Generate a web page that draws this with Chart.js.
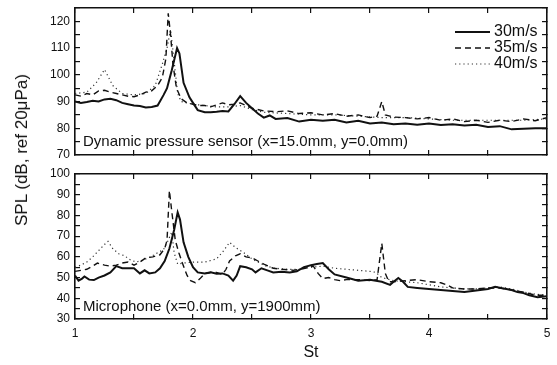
<!DOCTYPE html>
<html>
<head>
<meta charset="utf-8">
<script src="https://cdn.jsdelivr.net/npm/chart.js@4.4.0/dist/chart.umd.min.js"></script>
<style>
  body { margin: 0; background: #fff; }
  #wrap { position: relative; width: 557px; height: 365px; font-family: "Liberation Sans", Arial, sans-serif; color: #111; }
  #top { position: absolute; left: 0; top: 0; }
  #bottom { position: absolute; left: 0; top: 165px; }
  #ylabel { position: absolute; left: 22px; top: 150px; transform: translate(-50%, -50%) rotate(-90deg); white-space: nowrap; font-size: 17px; }
</style>
</head>
<body>
<div id="wrap">
  <canvas id="top" width="557" height="165"></canvas>
  <canvas id="bottom" width="557" height="200"></canvas>
  <div id="ylabel">SPL (dB, ref 20μPa)</div>
</div>
<script>
// speeds
const speeds = ['30m/s', '35m/s', '40m/s']
const xTicks = [1, 2, 3, 4, 5]

// dynamic pressure sensor panel
const sensorSt30 = [1.0, 1.05, 1.1, 1.15, 1.2, 1.25, 1.3, 1.35, 1.4, 1.45, 1.5, 1.55, 1.6, 1.65, 1.7, 1.75, 1.78, 1.82, 1.865, 1.885, 1.92, 1.97, 2.0, 2.04, 2.1, 2.15, 2.2, 2.25, 2.3, 2.35, 2.4, 2.45, 2.5, 2.55, 2.6, 2.65, 2.7, 2.8, 2.9, 3.0, 3.1, 3.2, 3.3, 3.4, 3.5, 3.6, 3.7, 3.8, 3.9, 4.0, 4.1, 4.2, 4.3, 4.4, 4.5, 4.6, 4.7, 4.8, 4.9, 5.0]
const sensorSpl30 = [90, 89.5, 89.8, 90.3, 90, 90.8, 91, 90.5, 89.5, 89, 88.5, 88.3, 87.8, 88, 88.5, 92.4, 95, 101.7, 110, 108, 97, 91.6, 89.5, 86.8, 86, 86, 86.2, 86.5, 86.3, 89, 92, 89.5, 87.5, 85.5, 84, 84.8, 83.5, 83.8, 82.5, 83.2, 82.8, 83.2, 82.2, 82.8, 81.8, 82.2, 81.5, 81.8, 81.3, 81.8, 81.2, 81.5, 81, 81.3, 80.5, 80.8, 79.6, 79.8, 80, 80]
const sensorSt35 = [1.0, 1.05, 1.1, 1.15, 1.2, 1.25, 1.3, 1.35, 1.4, 1.45, 1.5, 1.55, 1.6, 1.65, 1.7, 1.74, 1.77, 1.79, 1.81, 1.83, 1.86, 1.9, 1.95, 2.0, 2.05, 2.1, 2.15, 2.2, 2.25, 2.3, 2.35, 2.4, 2.45, 2.5, 2.6, 2.7, 2.8, 2.9, 3.0, 3.1, 3.2, 3.3, 3.4, 3.5, 3.56, 3.6, 3.63, 3.7, 3.8, 3.9, 4.0, 4.1, 4.2, 4.3, 4.4, 4.5, 4.6, 4.7, 4.8, 4.9, 5.0]
const sensorSpl35 = [92.5, 92, 93, 92.5, 94, 94.2, 93.5, 93, 92.5, 92, 91.8, 92.5, 93.5, 94, 96, 99, 106, 123, 115, 104, 95, 91, 89.5, 89, 88.5, 88.5, 88, 88.8, 89.5, 88.8, 89, 89.5, 88.5, 87.5, 86.5, 86.2, 86.5, 85.5, 85.8, 85, 85.5, 84.5, 85, 84, 84.5, 90, 85, 84.2, 84, 83.5, 84, 83, 83.5, 82.5, 83, 82.2, 83, 82.5, 83.5, 82.8, 84]
const sensorSt40 = [1.0, 1.1, 1.18, 1.25, 1.32, 1.4, 1.5, 1.6, 1.68, 1.74, 1.78, 1.81, 1.84, 1.87, 1.9, 1.95, 2.0, 2.1, 2.2, 2.3, 2.4, 2.5, 2.6, 2.8, 3.0, 3.2, 3.4, 3.6, 3.8, 4.0, 4.2, 4.4, 4.6, 4.8, 5.0]
const sensorSpl40 = [93, 93.5, 97, 102, 96, 93, 92.5, 93, 96, 104, 110, 117, 105, 93, 90, 89.5, 89, 88.5, 88, 88, 88.5, 87, 86, 85.5, 85, 85, 84.5, 84, 84, 83.5, 83, 83, 83, 83, 83.5]

// microphone panel
const micSt30 = [1.0, 1.03, 1.06, 1.08, 1.12, 1.16, 1.2, 1.25, 1.3, 1.35, 1.4, 1.45, 1.5, 1.55, 1.59, 1.63, 1.68, 1.72, 1.76, 1.8, 1.84, 1.87, 1.89, 1.92, 1.96, 2.0, 2.04, 2.1, 2.15, 2.2, 2.25, 2.3, 2.34, 2.37, 2.4, 2.45, 2.5, 2.53, 2.58, 2.63, 2.68, 2.75, 2.82, 2.88, 2.94, 3.0, 3.05, 3.1, 3.15, 3.2, 3.3, 3.4, 3.5, 3.6, 3.67, 3.7, 3.74, 3.78, 3.82, 3.9, 4.0, 4.1, 4.2, 4.3, 4.4, 4.5, 4.56, 4.62, 4.7, 4.75, 4.8, 4.85, 4.92, 5.0]
const micSpl30 = [51, 48.5, 49.5, 50.5, 49, 48.8, 50, 51, 52.5, 55.5, 54.5, 54.5, 54.5, 52, 53.5, 52, 52.5, 54.5, 58, 64, 73, 81.5, 78, 67, 60, 55, 52.5, 52, 52.5, 51.8, 52, 51, 48.5, 51, 55.5, 55, 54, 52.5, 54.5, 53.5, 52.5, 52.8, 52.5, 53, 55, 56, 56.5, 57, 54, 51.5, 50, 48.5, 49, 48, 46.5, 48, 49.8, 48, 45.5, 45, 44.5, 44, 43.5, 43, 43.8, 44.5, 45.5, 44.8, 44, 43, 42.5, 41.5, 40.5, 41]
const micSt35 = [1.0, 1.05, 1.1, 1.15, 1.19, 1.25, 1.3, 1.35, 1.4, 1.45, 1.5, 1.55, 1.6, 1.66, 1.72, 1.76, 1.78, 1.8, 1.82, 1.85, 1.88, 1.91, 1.95, 1.98, 2.02, 2.06, 2.1, 2.15, 2.2, 2.25, 2.28, 2.31, 2.36, 2.4, 2.45, 2.5, 2.55, 2.6, 2.68, 2.75, 2.85, 2.95, 3.02, 3.06, 3.1, 3.15, 3.2, 3.25, 3.3, 3.4, 3.5, 3.56, 3.6, 3.63, 3.66, 3.7, 3.8, 3.9, 4.0, 4.1, 4.15, 4.2, 4.3, 4.4, 4.5, 4.6, 4.7, 4.8, 4.9, 5.0]
const micSpl35 = [53, 53.5, 54, 55.5, 57, 56, 55.5, 56, 57, 57.5, 56, 57.5, 59.5, 60, 61, 64, 68, 92, 82, 68, 62, 57, 51, 48.5, 47.5, 49.5, 52, 52.5, 52.5, 51.5, 54, 58, 60.5, 61.5, 60, 59.5, 58, 56.5, 54.5, 54, 53.5, 54.5, 55.5, 52, 49.5, 50, 49, 48.5, 49, 49, 48.5, 49, 66.5, 52, 48, 48, 48.5, 49, 48, 47.5, 46.5, 45, 44.5, 44.5, 45, 45, 44, 43, 41.5, 41.5]
const micSt40 = [1.0, 1.05, 1.1, 1.15, 1.2, 1.25, 1.28, 1.32, 1.37, 1.42, 1.47, 1.52, 1.58, 1.64, 1.7, 1.75, 1.79, 1.82, 1.84, 1.87, 1.92, 2.0, 2.1, 2.2, 2.26, 2.31, 2.36, 2.43, 2.5, 2.55, 2.62, 2.7, 2.8, 2.9, 3.0, 3.1, 3.2, 3.3, 3.4, 3.5, 3.55, 3.6, 3.7, 3.8, 3.9, 4.0, 4.1, 4.2, 4.3, 4.4, 4.5, 4.6, 4.7, 4.8, 4.9, 5.0]
const micSpl40 = [55, 56, 57.5, 60, 63, 66, 67.5, 64, 61.5, 60.5, 58.5, 57.5, 58.5, 60, 62, 63.5, 68, 72, 62, 56.5, 57, 57.5, 57.5, 59, 63, 67, 64.5, 62, 59, 57.5, 55.5, 54.5, 54, 54, 55, 55.5, 54.5, 54, 53.5, 53, 52.5, 50, 48.5, 48, 47.5, 46.5, 45.5, 45, 44.5, 44.5, 45, 45.5, 44.5, 43, 42, 41.5]

const FONT = '"Liberation Sans", Arial, sans-serif'
const INK = '#111111'

function pairs (xs, ys) {
  return xs.map((x, i) => ({ x: x, y: ys[i] }))
}

function makeDatasets (st30, spl30, st35, spl35, st40, spl40) {
  return [
    { label: speeds[0], data: pairs(st30, spl30), borderColor: INK, borderWidth: 2, borderDash: [] },
    { label: speeds[1], data: pairs(st35, spl35), borderColor: INK, borderWidth: 1.4, borderDash: [6, 4] },
    { label: speeds[2], data: pairs(st40, spl40), borderColor: '#333333', borderWidth: 1.2, borderDash: [1.2, 3] }
  ]
}

// panel note and legend drawn inside the plot box
const notePlugin = {
  id: 'note',
  afterDraw (chart) {
    const opts = chart.options.plugins.note
    const ctx = chart.ctx
    const a = chart.chartArea
    ctx.save()
    ctx.fillStyle = INK
    ctx.font = '15px ' + FONT
    ctx.textBaseline = 'middle'
    ctx.textAlign = 'left'
    ctx.fillText(opts.text, a.left + 8, a.bottom - opts.offset)

    if (opts.legend) {
      ctx.font = '16px ' + FONT
      chart.data.datasets.forEach((ds, i) => {
        const ly = a.top + 24 + i * 16
        const lx = a.right - 92
        ctx.strokeStyle = ds.borderColor
        ctx.lineWidth = ds.borderWidth
        ctx.setLineDash(ds.borderDash)
        ctx.beginPath()
        ctx.moveTo(lx, ly); ctx.lineTo(lx + 35, ly)
        ctx.stroke()
        ctx.fillText(ds.label, lx + 39, ly)
      })
    }
    ctx.restore()
  }
}

// inward tick marks: negative tick length, no grid lines in the plot
const inwardGrid = { display: true, drawOnChartArea: false, drawTicks: true, tickLength: -5, color: INK, lineWidth: 1.2 }

// keep the plot box fixed: no extra room reserved for edge labels
function noScalePadding (scale) {
  scale.paddingLeft = 0
  scale.paddingRight = 0
  scale.paddingTop = 0
  scale.paddingBottom = 0
}

function edgeAxis (position, min, max, step) {
  return {
    type: 'linear',
    position: position,
    min: min,
    max: max,
    grid: inwardGrid,
    ticks: { display: false, stepSize: step },
    border: { display: true, color: INK, width: 1.6 },
    afterFit: scale => {
      if (position === 'top') scale.height = 0
      else scale.width = 0
      noScalePadding(scale)
    }
  }
}

function makeOptions (yMin, yMax, showX, note, noteOffset, legend, padding) {
  return {
    responsive: false,
    animation: false,
    layout: { padding: padding, autoPadding: false },
    elements: { point: { radius: 0 }, line: { tension: 0, fill: false } },
    plugins: {
      legend: { display: false },
      tooltip: { enabled: false },
      note: { text: note, offset: noteOffset, legend: legend }
    },
    scales: {
      x: {
        type: 'linear',
        min: 1,
        max: 5,
        grid: inwardGrid,
        border: { display: true, color: INK, width: 1.6 },
        afterFit: scale => {
          scale.height = showX ? 46 : 0
          noScalePadding(scale)
        },
        ticks: {
          display: showX,
          stepSize: 0.5,
          color: INK,
          padding: 12,
          font: { family: FONT, size: 12 },
          maxRotation: 0,
          autoSkip: false,
          callback: v => (xTicks.includes(v) ? v : '')
        },
        title: { display: showX, text: 'St', color: INK, font: { family: FONT, size: 16 }, padding: { top: 0, bottom: 3 } }
      },
      xTop: edgeAxis('top', 1, 5, 0.5),
      y: {
        min: yMin,
        max: yMax,
        grid: inwardGrid,
        border: { display: true, color: INK, width: 1.6 },
        afterFit: scale => {
          scale.width = 75
          noScalePadding(scale)
        },
        ticks: {
          stepSize: 5,
          color: INK,
          padding: 10,
          autoSkip: false,
          font: { family: FONT, size: 12 },
          callback: v => (v % 10 === 0 ? v : '')
        }
      },
      yRight: edgeAxis('right', yMin, yMax, 5)
    }
  }
}

new Chart(document.getElementById('top'), {
  type: 'line',
  data: { datasets: makeDatasets(sensorSt30, sensorSpl30, sensorSt35, sensorSpl35, sensorSt40, sensorSpl40) },
  options: makeOptions(70, 125, false, 'Dynamic pressure sensor (x=15.0mm, y=0.0mm)', 13, true, { top: 8, right: 10, bottom: 10, left: 0 }),
  plugins: [notePlugin]
})

new Chart(document.getElementById('bottom'), {
  type: 'line',
  data: { datasets: makeDatasets(micSt30, micSpl30, micSt35, micSpl35, micSt40, micSpl40) },
  options: makeOptions(30, 100, true, 'Microphone (x=0.0mm, y=1900mm)', 12, false, { top: 9, right: 10, bottom: 0, left: 0 }),
  plugins: [notePlugin]
})
</script>
</body>
</html>
